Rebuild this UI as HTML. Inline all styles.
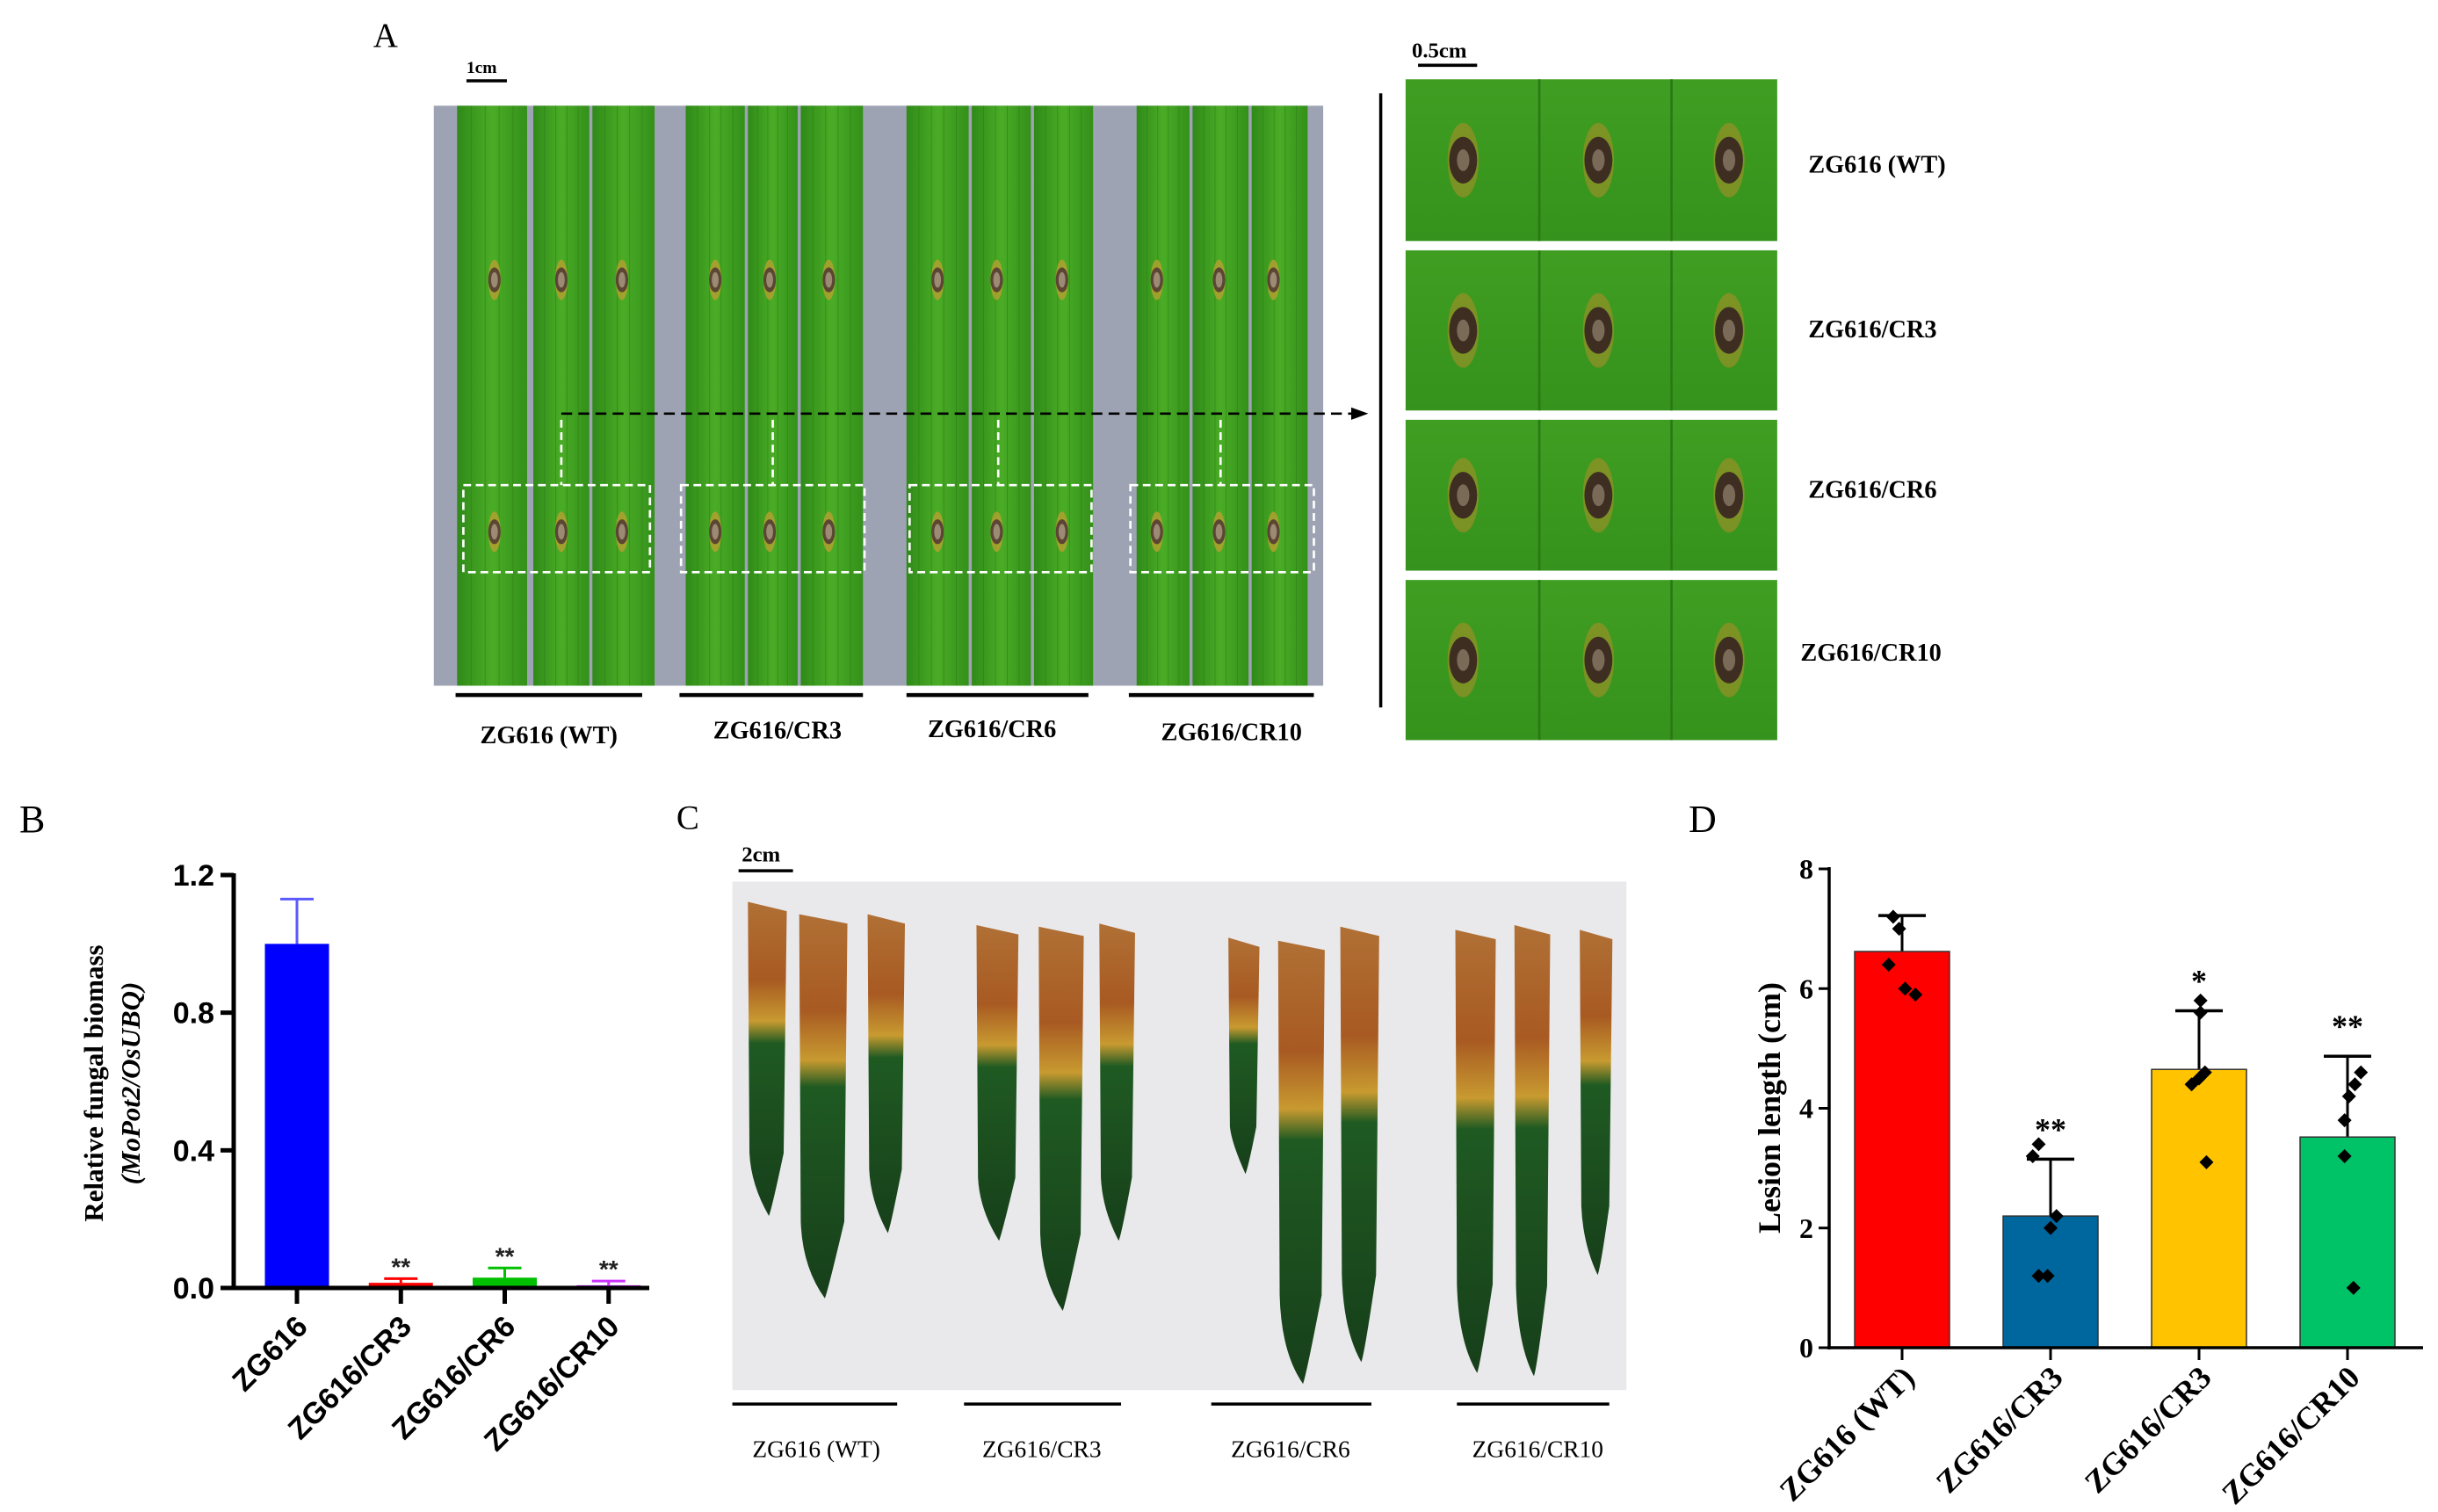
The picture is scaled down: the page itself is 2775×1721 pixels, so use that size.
<!DOCTYPE html>
<html><head><meta charset="utf-8">
<style>
html,body{margin:0;padding:0;background:#fff;}
svg{display:block;}
</style></head>
<body>
<svg id="fig" width="2775" height="1721" viewBox="0 0 2775 1721" xmlns="http://www.w3.org/2000/svg">
<defs>
<linearGradient id="leafG" x1="0" x2="1" y1="0" y2="0">
<stop offset="0" stop-color="#2f8a18"/><stop offset="0.5" stop-color="#4aac26"/><stop offset="1" stop-color="#33901a"/>
</linearGradient>
<linearGradient id="cropG" x1="0" x2="0" y1="0" y2="1">
<stop offset="0" stop-color="#3f9e22"/><stop offset="1" stop-color="#35921c"/>
</linearGradient>
<linearGradient id="cLeaf" x1="0" x2="0" y1="0" y2="1">
<stop offset="0" stop-color="#b07035"/><stop offset="0.25" stop-color="#a85a22"/><stop offset="0.38" stop-color="#c89a30"/><stop offset="0.45" stop-color="#1f5a22"/><stop offset="1" stop-color="#173f1a"/>
</linearGradient>
</defs>

<g transform="scale(1.7698)" font-family="Liberation Serif, serif">
  <text x="240" y="30" font-size="22">A</text>
  <line x1="300" y1="52" x2="326" y2="52" stroke="#000" stroke-width="2"/>
  <text x="300" y="47" font-size="11" font-weight="bold">1cm</text>
  <rect x="279" y="68" width="572" height="373" fill="#9ea3b4"/>
  <g id="aleaves"></g>
  <g id="alesions"></g>
  <g fill="none" stroke="#fff" stroke-width="1.5" stroke-dasharray="5,3">
    <rect x="298" y="312" width="120" height="56"/>
    <rect x="438" y="312" width="118" height="56"/>
    <rect x="585" y="312" width="117" height="56"/>
    <rect x="727" y="312" width="118" height="56"/>
    <line x1="361" y1="270" x2="361" y2="312"/>
    <line x1="497" y1="270" x2="497" y2="312"/>
    <line x1="642" y1="270" x2="642" y2="312"/>
    <line x1="785" y1="270" x2="785" y2="312"/>
  </g>
  <line x1="361" y1="266" x2="872" y2="266" stroke="#000" stroke-width="1.5" stroke-dasharray="7,4"/>
  <polygon points="880,266 869,262 869,270" fill="#000"/>
  <g stroke="#000" stroke-width="2.5">
    <line x1="293" y1="447" x2="413" y2="447"/><line x1="437" y1="447" x2="555" y2="447"/>
    <line x1="583" y1="447" x2="700" y2="447"/><line x1="726" y1="447" x2="845" y2="447"/>
  </g>
  <g font-size="16" font-weight="bold" text-anchor="middle">
    <text x="353" y="478">ZG616  (WT)</text>
    <text x="500" y="475">ZG616/CR3</text>
    <text x="638" y="474">ZG616/CR6</text>
    <text x="792" y="476">ZG616/CR10</text>
  </g>
  <line x1="888" y1="60" x2="888" y2="455" stroke="#000" stroke-width="2"/>
  <line x1="912" y1="42" x2="950" y2="42" stroke="#000" stroke-width="2"/>
  <text x="908" y="37" font-size="14" font-weight="bold">0.5cm</text>
  <g id="crops"></g>
  <g font-size="16" font-weight="bold">
    <text x="1163" y="111">ZG616 (WT)</text>
    <text x="1163" y="217">ZG616/CR3</text>
    <text x="1163" y="320">ZG616/CR6</text>
    <text x="1158" y="425">ZG616/CR10</text>
  </g>

  <text x="435" y="533" font-size="22">C</text>
  <text x="477" y="554" font-size="14" font-weight="bold">2cm</text>
  <line x1="475" y1="560" x2="510" y2="560" stroke="#000" stroke-width="2"/>
  <rect x="471" y="567" width="575" height="327" fill="#e9e9eb"/>
  <g id="cleaves"></g>
  <g stroke="#000" stroke-width="2">
    <line x1="471" y1="903" x2="577" y2="903"/><line x1="620" y1="903" x2="721" y2="903"/>
    <line x1="779" y1="903" x2="882" y2="903"/><line x1="937" y1="903" x2="1035" y2="903"/>
  </g>
  <g font-size="15.5" text-anchor="middle">
    <text x="525" y="937">ZG616 (WT)</text>
    <text x="670" y="937">ZG616/CR3</text>
    <text x="830" y="937">ZG616/CR6</text>
    <text x="989" y="937">ZG616/CR10</text>
  </g>
</g>

<text x="22" y="947" font-family="Liberation Serif, serif" font-size="44">B</text>
<g id="chartB"></g>
<text x="1922" y="947" font-family="Liberation Serif, serif" font-size="44">D</text>
<g id="chartD"></g>
</svg>

<script>
// ---- Chart B data ----
const bCategories = ["ZG616", "ZG616/CR3", "ZG616/CR6", "ZG616/CR10"];
const bValues = [1.0, 0.015, 0.03, 0.008];
const bErrors = [0.13, 0.012, 0.028, 0.012];
const bStars = ["", "**", "**", "**"];
const bTicks = [0, 0.4, 0.8, 1.2];
const bTickLabels = ["0.0", "0.4", "0.8", "1.2"];
const bColors = ["#0000ff", "#ff0000", "#00c000", "#cc33ff"];
const bErrColors = ["#5a5aff", "#ff0000", "#00c000", "#cc33ff"];

// ---- Chart D data ----
const dCategories = ["ZG616 (WT)", "ZG616/CR3", "ZG616/CR3", "ZG616/CR10"];
const dValues = [6.62, 2.2, 4.65, 3.52];
const dSD = [0.6, 0.95, 0.98, 1.35];
const dStars = ["", "**", "*", "**"];
const dPoints = [[7.2, 7.0, 6.4, 6.0, 5.9],[3.4, 3.2, 2.2, 2.0, 1.2, 1.2],[5.8, 5.6, 4.6, 4.5, 4.4, 3.1],[4.6, 4.4, 4.2, 3.8, 3.2, 1.0]];
const dJitter = [[-0.06, -0.02, -0.09, 0.02, 0.09],[-0.08, -0.12, 0.04, 0, -0.08, -0.02],[0.01, 0.01, 0.04, 0, -0.05, 0.05],[0.09, 0.05, 0.01, -0.02, -0.02, 0.04]];
const dTicks = [0, 2, 4, 6, 8];
const dColors = ["#ff0000", "#00669e", "#ffc300", "#00c266"];

const NS = "http://www.w3.org/2000/svg";
function mk(tag, attrs, parent, txt) {
  const e = document.createElementNS(NS, tag);
  for (const k in attrs) e.setAttribute(k, attrs[k]);
  if (txt !== undefined) e.textContent = txt;
  parent.appendChild(e);
  return e;
}

(function () {
  const al = document.getElementById("aleaves");
  const strips = [[294,339],[343,379],[381,421],[441,479],[481,513],[515,555],[583,623],[625,663],[665,703],[731,765],[767,803],[805,841]];
  strips.forEach(s => {
    const r = mk("rect", {x: s[0], y: 68, width: s[1]-s[0], height: 373, fill: "url(#leafG)"}, al);
    
    
    for (let k = 1; k < 5; k++) {
      const lx = s[0] + (s[1]-s[0]) * k / 5;
      mk("line", {x1: lx, y1: 68, x2: lx, y2: 441, stroke: "#2c7a16", "stroke-width": 0.5, opacity: 0.6}, al);
    }
  });
  const les = document.getElementById("alesions");
  const lx = [318,361,400,460,495,533,603,641,683,744,784,819];
  lx.forEach(x => {
    [180, 342].forEach(y => {
      const g = mk("g", {}, les);
      
      
      mk("ellipse", {cx: x, cy: y, rx: 4, ry: 13, fill: "#b8a030", opacity: 0.8}, g);
      mk("ellipse", {cx: x, cy: y, rx: 4, ry: 8, fill: "#5a4632"}, g);
      mk("ellipse", {cx: x, cy: y, rx: 2.2, ry: 5, fill: "#9c8a74"}, g);
    });
  });
  const cr = document.getElementById("crops");
  const rows = [[51,155],[161,264],[270,367],[373,476]];
  rows.forEach(r => {
    const rc = mk("rect", {x: 904, y: r[0], width: 239, height: r[1]-r[0], fill: "url(#cropG)"}, cr);
    
    
    [990, 1075].forEach(sx => mk("line", {x1: sx, y1: r[0], x2: sx, y2: r[1], stroke: "#2a7a14", "stroke-width": 1.5}, cr));
    const cy = (r[0]+r[1])/2;
    [941, 1028, 1112].forEach(x => {
      mk("ellipse", {cx: x, cy: cy, rx: 10, ry: 24, fill: "#a89028", opacity: 0.6}, cr);
      mk("ellipse", {cx: x, cy: cy, rx: 9, ry: 15, fill: "#3e2e22"}, cr);
      mk("ellipse", {cx: x, cy: cy, rx: 4, ry: 7, fill: "#7a6a58"}, cr);
    });
  });
  const cl = document.getElementById("cleaves");
  const leaves = [[481,506,580,782],[514,545,588,835],[558,582,588,793],[628,655,595,798],[668,697,596,843],[707,730,594,798],[790,810,603,755],[822,852,605,890],[862,887,596,876],[936,962,598,883],[974,997,595,885],[1016,1037,598,820]];
  leaves.forEach(l => {
    const [x0,x1,yt,yb] = l;
    const mid = (x0+x1)/2;
    const d = `M${x0},${yt} L${x1},${yt+6} L${x1-2},${yt+(yb-yt)*0.8} Q${mid+3},${yb-5} ${mid+1},${yb} Q${x0+2},${yb-20} ${x0+1},${yt+(yb-yt)*0.8} Z`;
    const p = mk("path", {d: d, fill: "url(#cLeaf)"}, cl);
    
    
  });
})();

// ---- Chart B ----
(function () {
  const g = document.getElementById("chartB");
  const x0 = 266, xEnd = 739, yTop = 996, yBase = 1466, vMax = 1.2;
  const yB = v => yBase - v * (yBase - yTop) / vMax;
  const band = (xEnd - x0) / bCategories.length;
  const xB = i => x0 + 72 + i * band;
  const bw = 73;
  bValues.forEach((v, i) => {
    const cx = xB(i);
    const e = mk("line", {x1: cx, y1: yB(v), x2: cx, y2: yB(v + bErrors[i]), stroke: bErrColors[i], "stroke-width": 3}, g);
    
    
    mk("line", {x1: cx - 19, y1: yB(v + bErrors[i]), x2: cx + 19, y2: yB(v + bErrors[i]), stroke: bErrColors[i], "stroke-width": 3}, g);
    const r = mk("rect", {x: cx - bw/2, y: yB(v), width: bw, height: Math.max(yBase - yB(v), 1), fill: bColors[i]}, g);
    
    
    if (bStars[i]) {
      const s = mk("text", {x: cx, y: yB(v + bErrors[i]) - 4, "text-anchor": "middle", "font-family": "Liberation Sans, sans-serif", "font-size": 28, "font-weight": "bold", fill: "#222"}, g, bStars[i]);
      
      
    }
    mk("line", {x1: cx, y1: yBase, x2: cx, y2: yBase + 18, stroke: "#000", "stroke-width": 5}, g);
    const t = mk("text", {x: 0, y: 0, "text-anchor": "end", "font-family": "Liberation Sans, sans-serif", "font-size": 34, "font-weight": "bold", transform: `translate(${cx + 14},${yBase + 46}) rotate(-45)`}, g, bCategories[i]);
    
    
  });
  const ya = mk("line", {x1: x0, y1: yTop - 2, x2: x0, y2: yBase + 2, stroke: "#000", "stroke-width": 5}, g);
  
  
  const xa = mk("line", {x1: x0 - 2, y1: yBase, x2: xEnd, y2: yBase, stroke: "#000", "stroke-width": 5}, g);
  
  
  bTicks.forEach((t, i) => {
    mk("line", {x1: x0 - 15, y1: yB(t), x2: x0, y2: yB(t), stroke: "#000", "stroke-width": 5}, g);
    const l = mk("text", {x: x0 - 22, y: yB(t) + 12, "text-anchor": "end", "font-family": "Liberation Sans, sans-serif", "font-size": 34, "font-weight": "bold"}, g, bTickLabels[i]);
    
    
  });
  const yt = mk("text", {x: 0, y: 0, "text-anchor": "middle", "font-family": "Liberation Serif, serif", "font-size": 31, "font-weight": "bold", transform: `translate(117,1233) rotate(-90)`}, g, "Relative fungal biomass");
  
  
  const yt2 = mk("text", {x: 0, y: 0, "text-anchor": "middle", "font-family": "Liberation Serif, serif", "font-size": 31, "font-weight": "bold", "font-style": "italic", transform: `translate(159,1233) rotate(-90)`}, g, "(MoPot2/OsUBQ)");
  
  
})();

// ---- Chart D ----
(function () {
  const g = document.getElementById("chartD");
  const x0 = 2082, xEnd = 2758, yTop = 989, yBase = 1534, vMax = 8;
  const yD = v => yBase - v * (yBase - yTop) / vMax;
  const band = (xEnd - x0) / dCategories.length;
  const xD = i => x0 + 83 + i * band;
  const bw = 108;
  dValues.forEach((v, i) => {
    const cx = xD(i);
    const top = yD(v + dSD[i]);
    const e = mk("line", {x1: cx, y1: yD(v), x2: cx, y2: top, stroke: "#000", "stroke-width": 3}, g);
    
    
    mk("line", {x1: cx - 27, y1: top, x2: cx + 27, y2: top, stroke: "#000", "stroke-width": 3.5}, g);
    const r = mk("rect", {x: cx - bw/2, y: yD(v), width: bw, height: yBase - yD(v), fill: dColors[i], stroke: "#333", "stroke-width": 1.5}, g);
    
    
    dPoints[i].forEach((p, j) => {
      const px = cx + dJitter[i][j] * band, py = yD(p);
      const m = mk("polygon", {points: `${px},${py-8} ${px+8},${py} ${px},${py+8} ${px-8},${py}`, fill: "#000"}, g);
      
      
    });
    if (dStars[i]) {
      const s = mk("text", {x: cx, y: top - 22, "text-anchor": "middle", "font-family": "Liberation Serif, serif", "font-size": 36, "font-weight": "bold"}, g, dStars[i]);
      
      
    }
    mk("line", {x1: cx, y1: yBase, x2: cx, y2: yBase + 14, stroke: "#000", "stroke-width": 3}, g);
    const t = mk("text", {x: 0, y: 0, "text-anchor": "end", "font-family": "Liberation Serif, serif", "font-size": 36, "font-weight": "bold", transform: `translate(${cx + 16},${yBase + 36}) rotate(-45)`}, g, dCategories[i]);
    
    
  });
  const ya = mk("line", {x1: x0, y1: yTop - 2, x2: x0, y2: yBase + 2, stroke: "#000", "stroke-width": 3.5}, g);
  
  
  const xa = mk("line", {x1: x0 - 2, y1: yBase, x2: xEnd, y2: yBase, stroke: "#000", "stroke-width": 3.5}, g);
  
  
  dTicks.forEach(t => {
    mk("line", {x1: x0 - 12, y1: yD(t), x2: x0, y2: yD(t), stroke: "#000", "stroke-width": 3}, g);
    const l = mk("text", {x: x0 - 18, y: yD(t) + 11, "text-anchor": "end", "font-family": "Liberation Serif, serif", "font-size": 32, "font-weight": "bold"}, g, String(t));
    
    
  });
  const yt = mk("text", {x: 0, y: 0, "text-anchor": "middle", "font-family": "Liberation Serif, serif", "font-size": 36, "font-weight": "bold", transform: `translate(2026,1261) rotate(-90)`}, g, "Lesion length (cm)");
  
  
})();
</script>
</body></html>
